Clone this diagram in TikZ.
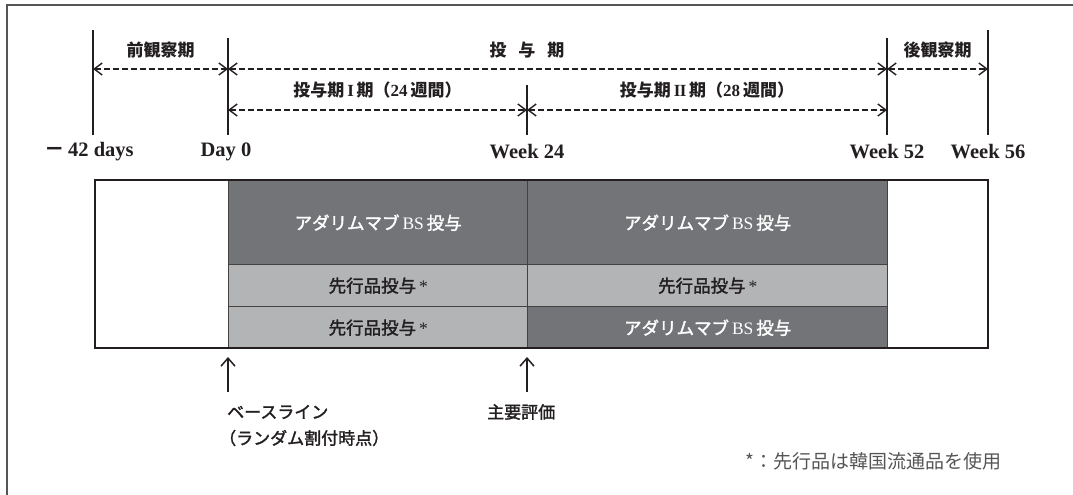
\documentclass[tikz,border=0pt]{standalone}
\usepackage{fontspec}
\setmainfont{Liberation Serif}
\newfontfamily\jp{Noto Sans CJK JP}
\newfontfamily\jpm[FakeBold=1.8]{Noto Sans CJK JP}
\usetikzlibrary{arrows.meta}
\definecolor{dk}{HTML}{737478}
\definecolor{lt}{HTML}{B3B4B6}
\definecolor{ink}{HTML}{231F20}
\definecolor{frm}{HTML}{555555}
\definecolor{note}{HTML}{555555}
\begin{document}
\begin{tikzpicture}[x=1pt,y=-1pt,
  vline/.style={line width=1.6pt, draw=ink},
  darrow/.style={draw=ink, line width=1.4pt, dash pattern=on 6pt off 3pt,
    {Straight Barb[length=8pt,width=12pt,line width=1.4pt]}-{Straight Barb[length=8pt,width=12pt,line width=1.4pt]}},
  uparrow/.style={draw=ink, line width=1.6pt, -{Straight Barb[length=8pt,width=14pt,line width=1.5pt]}},
  lbl/.style={font=\jp\bfseries\fontsize{17}{20}\selectfont, text=ink, inner sep=0pt},
  mlbl/.style={font=\jpm\fontsize{17}{20}\selectfont, text=ink, inner sep=0pt, anchor=west},
  tick/.style={font=\bfseries\fontsize{20.5}{24}\selectfont, text=ink, inner sep=0pt},
  cell/.style={draw=ink!85, line width=1.4pt, anchor=north west, inner sep=0pt},
  dcell/.style={cell, fill=dk, text=white, font=\jpm\fontsize{17.5}{20}\selectfont},
  lcell/.style={cell, fill=lt, text=ink, font=\jpm\fontsize{17.5}{20}\selectfont},
  wcell/.style={cell, fill=white},
]
\useasboundingbox (0,0) rectangle (1073,495);
% frame
\draw[frm, line width=1.6pt] (7,495) -- (7,5) -- (1073,5);

% vertical time lines
\coordinate (a1) at (93,30);  \coordinate (a2) at (93,135);
\coordinate (b1) at (228,38); \coordinate (b2) at (228,135);
\coordinate (c1) at (527,85); \coordinate (c2) at (527,135);
\coordinate (d1) at (887,38); \coordinate (d2) at (887,135);
\coordinate (e1) at (988,30); \coordinate (e2) at (988,135);
\draw[vline] (a1) -- (a2);
\draw[vline] (b1) -- (b2);
\draw[vline] (c1) -- (c2);
\draw[vline] (d1) -- (d2);
\draw[vline] (e1) -- (e2);

% arrow end points
\coordinate (ra) at (93,69);  \coordinate (rb) at (228,69);
\coordinate (rd) at (887,69); \coordinate (re) at (988,69);
\coordinate (sb) at (228,110); \coordinate (sc) at (527,110); \coordinate (sd) at (887,110);
\draw[darrow] (ra) -- (rb);
\draw[darrow] (rb) -- (rd);
\draw[darrow] (rd) -- (re);
\draw[darrow] (sb) -- (sc);
\draw[darrow] (sc) -- (sd);

% period labels
\node[lbl] (pre) at (160.5,50) {前観察期};
\node[lbl] (dose) at (527,50) {投\hspace{12pt}与\hspace{12pt}期};
\node[lbl] (post) at (937.5,50) {後観察期};
\node[lbl] (p1) at (377.5,90) {投与期\,{\rmfamily I}\,期（{\rmfamily 24}\,週間）};
\node[lbl] (p2) at (707,90) {投与期\,{\rmfamily I\kern-0.6ptI}\,期（{\rmfamily 28}\,週間）};

% tick labels
\node[tick] (t0) at (89,152) {{\jp －}\,42 days};
\node[tick] (t1) at (226,152) {Day 0};
\node[tick] (t2) at (527,152) {Week 24};
\node[tick] (t3) at (887,152) {Week 52};
\node[tick] (t4) at (988,152) {Week 56};

% table
\node[wcell, minimum width=133pt, minimum height=168pt] (w1) at (95,180) {};
\node[wcell, minimum width=101pt, minimum height=168pt] (w2) at (887,180) {};
\node[dcell, minimum width=299pt, minimum height=84pt] (x11) at (228,180) {アダリムマブ\,{\rmfamily BS}\,投与};
\node[dcell, minimum width=360pt, minimum height=84pt] (x12) at (527,180) {アダリムマブ\,{\rmfamily BS}\,投与};
\node[lcell, minimum width=299pt, minimum height=42pt] (x21) at (228,264) {先行品投与\,{\rmfamily *}};
\node[lcell, minimum width=360pt, minimum height=42pt] (x22) at (527,264) {先行品投与\,{\rmfamily *}};
\node[lcell, minimum width=299pt, minimum height=42pt] (x31) at (228,306) {先行品投与\,{\rmfamily *}};
\node[dcell, minimum width=360pt, minimum height=42pt] (x32) at (527,306) {アダリムマブ\,{\rmfamily BS}\,投与};
\draw[ink, line width=2pt] (95,180) rectangle (988,348);

% bottom arrows
\coordinate (u1s) at (228,392); \coordinate (u1e) at (228,357);
\coordinate (u2s) at (527,392); \coordinate (u2e) at (527,357);
\draw[uparrow] (u1s) -- (u1e);
\draw[uparrow] (u2s) -- (u2e);
\node[mlbl] (base) at (227,412) {ベースライン};
\node[mlbl] (rand) at (219,438) {（ランダム割付時点）};
\node[mlbl] (main) at (487,412) {主要評価};

% footnote
\node[font=\jp\fontsize{19}{22}\selectfont, text=note, inner sep=0pt, anchor=west] (fn) at (745,461) {*：先行品は韓国流通品を使用};
\end{tikzpicture}
\end{document}
